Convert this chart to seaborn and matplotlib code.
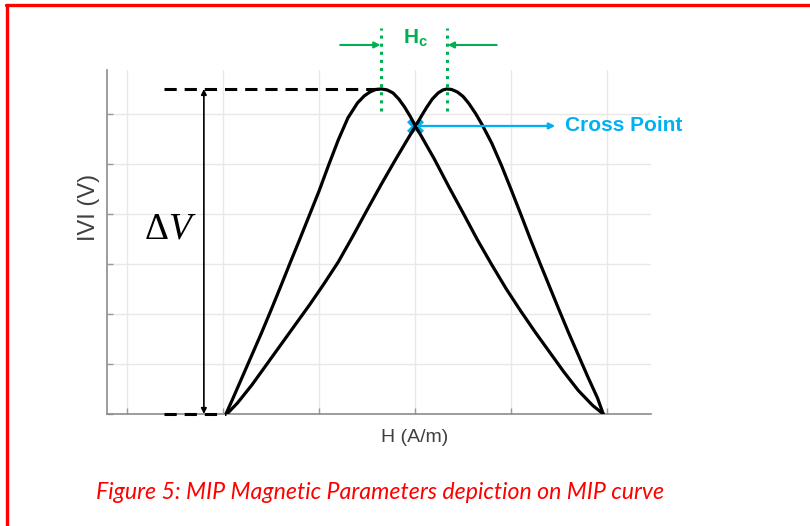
"""MIP curve sketch: |V| against H with the magnetic parameters marked."""

import pandas as pd
import matplotlib.pyplot as plt
import seaborn as sns
from matplotlib.lines import Line2D

# Curves (H and |V| in grid units)
h_left = [-1.97, -1.90, -1.80, -1.70, -1.60, -1.50, -1.40, -1.30, -1.20, -1.10,
          -1.00, -0.90, -0.80, -0.70, -0.60, -0.53, -0.47, -0.41, -0.35, -0.29,
          -0.23, -0.17, -0.11, -0.05, 0.00, 0.07, 0.20, 0.35, 0.50, 0.65,
          0.80, 0.95, 1.10, 1.25, 1.40, 1.55, 1.70, 1.85, 1.96]
v_left = [0.00, 0.30, 0.74, 1.18, 1.62, 2.08, 2.55, 3.03, 3.50, 3.98,
          4.46, 4.98, 5.48, 5.92, 6.22, 6.36, 6.44, 6.49, 6.50, 6.48,
          6.42, 6.30, 6.14, 5.95, 5.77, 5.54, 5.10, 4.55, 4.02, 3.48,
          2.98, 2.50, 2.06, 1.64, 1.24, 0.84, 0.47, 0.17, 0.00]

h_right = [-1.96, -1.85, -1.70, -1.55, -1.40, -1.25, -1.10, -0.95, -0.80, -0.65,
           -0.50, -0.35, -0.20, -0.07, 0.00, 0.06, 0.12, 0.18, 0.24, 0.29,
           0.33, 0.38, 0.44, 0.50, 0.56, 0.63, 0.70, 0.80, 0.90, 1.00,
           1.10, 1.20, 1.30, 1.40, 1.50, 1.60, 1.70, 1.80, 1.90, 1.96]
v_right = [0.00, 0.22, 0.58, 0.98, 1.38, 1.78, 2.18, 2.60, 3.04, 3.55,
           4.08, 4.60, 5.10, 5.52, 5.74, 5.94, 6.13, 6.30, 6.42, 6.48,
           6.50, 6.49, 6.44, 6.35, 6.21, 6.01, 5.78, 5.41, 4.97, 4.49,
           4.00, 3.50, 3.02, 2.55, 2.08, 1.62, 1.18, 0.74, 0.32, 0.00]

# Marked parameters
peak_left = (-0.35, 6.50)
peak_right = (0.33, 6.50)
cross_point = (0.00, 5.76)
v_bottom = 0.0

x_grid = [-3, -2, -1, 0, 1, 2]
y_grid = [0, 1, 2, 3, 4, 5, 6]

df = pd.concat([
    pd.DataFrame({'H': h_left, 'V': v_left, 'sweep': 'left'}),
    pd.DataFrame({'H': h_right, 'V': v_right, 'sweep': 'right'}),
], ignore_index=True)

sns.set_theme(style='whitegrid')
plt.rcParams['font.family'] = ['Liberation Sans', 'DejaVu Sans']
plt.rcParams['mathtext.fontset'] = 'custom'
plt.rcParams['mathtext.rm'] = 'Liberation Serif'
plt.rcParams['mathtext.it'] = 'Liberation Serif:italic'
plt.rcParams['mathtext.bf'] = 'Liberation Sans:bold'

fig = plt.figure(figsize=(8.1, 5.26), dpi=100)
ax = fig.add_axes([0.132, 0.213, 0.672, 0.654])

green = '#00B050'
blue = '#00B0F0'

# Cross point marker sits under the curves
ax.scatter([cross_point[0]], [cross_point[1]], marker='X', s=150, color=blue,
           linewidths=0, zorder=2)

sns.lineplot(data=df, x='H', y='V', units='sweep', estimator=None, sort=False,
             color='black', linewidth=2.3, ax=ax, zorder=3,
             solid_joinstyle='round', solid_capstyle='round')

ax.set_xlim(-3.21, 2.46)
ax.set_ylim(0, 6.88)
ax.set_xticks(x_grid)
ax.set_yticks(y_grid)
ax.set_xticklabels([])
ax.set_yticklabels([])
ax.grid(True, color='#e8e8e8', linewidth=1.0)
ax.tick_params(axis='both', direction='in', length=4, width=1, color='#9a9a9a',
               left=True, bottom=True)
for side in ['top', 'right']:
    ax.spines[side].set_visible(False)
for side in ['left', 'bottom']:
    ax.spines[side].set_color('#8c8c8c')
    ax.spines[side].set_linewidth(1.2)

ax.set_xlabel('H (A/m)', fontsize=14, color='#404040')
ax.xaxis.set_label_coords(0.566, -0.045)
ax.set_ylabel('IVI (V)', fontsize=17, color='#404040')
ax.yaxis.set_label_coords(-0.012, 0.60)

# Delta V guides
x_dash = -2.62
ax.plot([x_dash, peak_left[0]], [peak_left[1], peak_left[1]], color='black',
        linewidth=2.2, linestyle=(0, (4, 2.6)), clip_on=False, zorder=4)
ax.plot([x_dash, h_left[0]], [v_bottom, v_bottom], color='black',
        linewidth=2.2, linestyle=(0, (4, 2.6)), clip_on=False, zorder=4)
ax.annotate('', xy=(-2.20, peak_left[1]), xytext=(-2.20, v_bottom),
            arrowprops=dict(arrowstyle='<|-|>', color='black', lw=1.2,
                            mutation_scale=8, shrinkA=0, shrinkB=0),
            annotation_clip=False, zorder=4)
ax.text(-2.28, 3.70, r'$\Delta V$', fontsize=27, ha='right', va='center',
        color='black')

# Hc markers
for xp in [peak_left[0], peak_right[0]]:
    ax.plot([xp, xp], [6.06, 7.72], color=green, linewidth=2.2, linestyle=':',
            clip_on=False, zorder=5)
ax.annotate('', xy=(peak_left[0] - 0.01, 7.38), xytext=(-0.78, 7.38),
            arrowprops=dict(arrowstyle='-|>', color=green, lw=1.5,
                            mutation_scale=9, shrinkA=0, shrinkB=0),
            annotation_clip=False)
ax.annotate('', xy=(peak_right[0] + 0.01, 7.38), xytext=(0.85, 7.38),
            arrowprops=dict(arrowstyle='-|>', color=green, lw=1.5,
                            mutation_scale=9, shrinkA=0, shrinkB=0),
            annotation_clip=False)
ax.text(0.0, 7.52, r'H$_{\mathbf{c}}$', fontsize=15, fontweight='bold',
        color=green, ha='center', va='center', clip_on=False)

# Cross point call-out
ax.annotate('', xy=(1.46, cross_point[1]), xytext=(cross_point[0] + 0.03, cross_point[1]),
            arrowprops=dict(arrowstyle='-|>', color=blue, lw=1.6,
                            mutation_scale=9, shrinkA=0, shrinkB=0),
            annotation_clip=False, zorder=4)
ax.text(1.56, cross_point[1], 'Cross Point', fontsize=15, fontweight='bold',
        color=blue, ha='left', va='center', clip_on=False)

# Caption and page frame
fig.text(0.469, 0.064, 'Figure 5: MIP Magnetic Parameters depiction on MIP curve',
         fontsize=16.7, style='italic', color='#FF0000', ha='center', va='center',
         family=['Lato', 'DejaVu Sans'])
fig.add_artist(Line2D([0.0085, 0.0085], [0.0, 0.991], transform=fig.transFigure,
                      color='#FF0000', linewidth=2.4))
fig.add_artist(Line2D([0.0075, 1.0], [0.991, 0.991], transform=fig.transFigure,
                      color='#FF0000', linewidth=2.4))

plt.savefig('out.png', dpi=100)
